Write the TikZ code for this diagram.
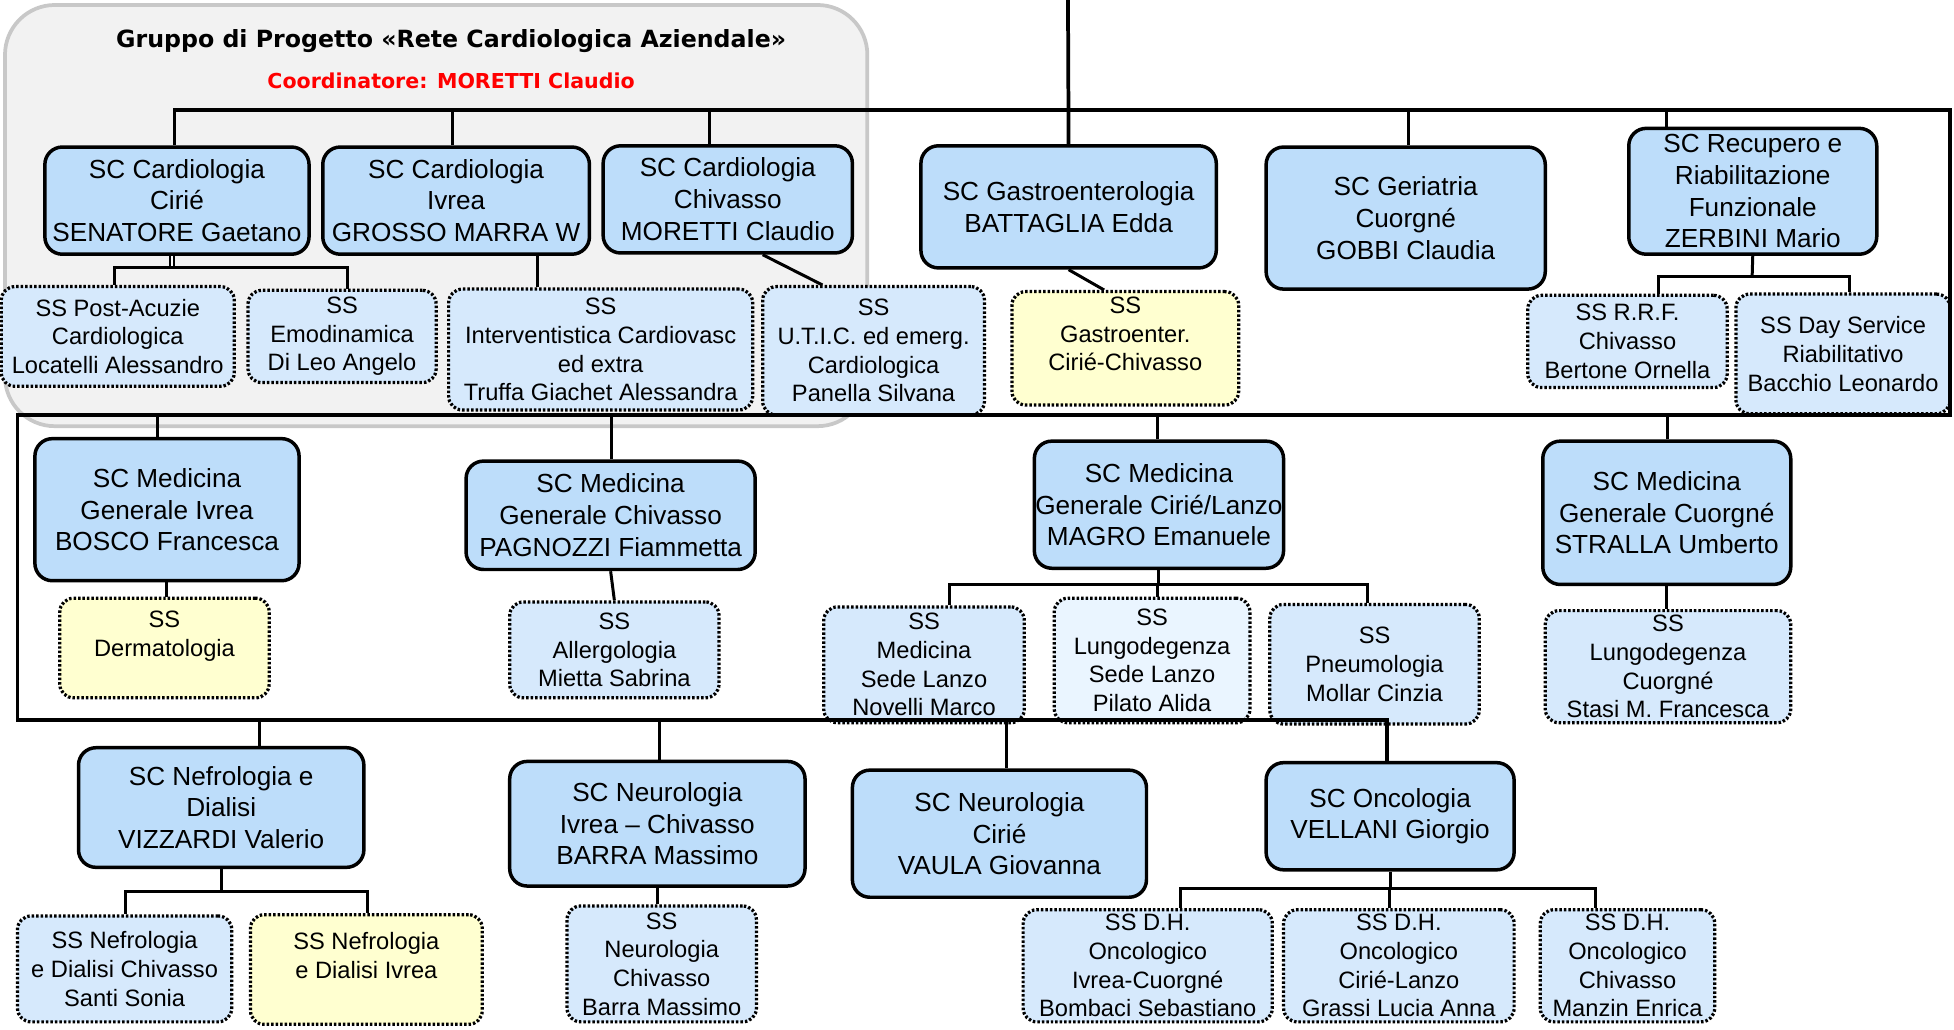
\documentclass[tikz,border=0pt]{standalone}
\usepackage{fontspec}
\setmainfont{Liberation Sans}
\newfontfamily\headfont{DejaVu Sans}
\definecolor{scblue}{RGB}{189,221,250}
\definecolor{ssblue}{RGB}{214,233,252}
\definecolor{ssyellow}{RGB}{255,255,208}
\definecolor{sspale}{RGB}{234,245,255}
\definecolor{groupline}{RGB}{200,200,200}
\definecolor{groupfill}{RGB}{242,242,242}
\begin{document}
\begin{tikzpicture}[x=1pt,y=-1pt,
  wh/.style 2 args={minimum width=#1pt,minimum height=#2pt},
  sc/.style={draw=black,line width=2.8pt,fill=scblue,rounded corners=14pt,inner sep=0pt,align=center,font=\fontsize{21}{25.5}\selectfont},
  ss/.style={draw=black,line width=2.6pt,dash pattern=on 2pt off 1.6pt,fill=ssblue,rounded corners=11pt,inner sep=0pt,align=center,font=\fontsize{19}{23}\selectfont},
  ssyel/.style={ss,fill=ssyellow},
  sspal/.style={ss,fill=sspale},
  link/.style={line width=2.4pt},
  rail/.style={line width=3pt},
  group/.style={draw=groupline,line width=3pt,fill=groupfill,rounded corners=40pt}]
\useasboundingbox (0,0) rectangle (1568,826);
\draw[group] (4,4) rectangle (696,342);
\node[font=\headfont\bfseries\fontsize{19}{23}\selectfont] (title) at (362,33) {Gruppo di Progetto «Rete Cardiologica Aziendale»};
\node[font=\headfont\bfseries\fontsize{16.5}{20}\selectfont,text=red] (coord) at (362,65) {Coordinatore: MORETTI Claudio};

\node[sc,wh={212}{86}] (cardcir) at (142,161) {SC Cardiologia\\Cirié\\SENATORE Gaetano};
\node[sc,wh={214}{86}] (cardivr) at (366,161) {SC Cardiologia\\Ivrea\\GROSSO MARRA W};
\node[sc,wh={200}{86}] (cardchv) at (584,160) {SC Cardiologia\\Chivasso\\MORETTI Claudio};
\node[sc,wh={237}{98}] (gastro) at (857.5,166) {SC Gastroenterologia\\BATTAGLIA Edda};
\node[sc,wh={224}{114}] (geriat) at (1128,175) {SC Geriatria\\Cuorgné\\GOBBI Claudia};
\node[sc,wh={199}{101}] (recup) at (1406.5,153.5) {SC Recupero e\\Riabilitazione\\Funzionale\\ZERBINI Mario};

\node[ss,wh={187}{80}] (postac) at (94.5,270) {SS Post-Acuzie\\Cardiologica\\Locatelli Alessandro};
\node[ss,wh={151}{74}] (emodin) at (274.5,270) {SS\\Emodinamica\\Di Leo Angelo};
\node[ss,wh={244}{97}] (interv) at (482,280.5) {SS\\Interventistica Cardiovasc\\ed extra\\Truffa Giachet Alessandra};
\node[ss,wh={178}{103}] (utic) at (701,281.5) {SS\\U.T.I.C. ed emerg.\\Cardiologica\\Panella Silvana};
\node[ssyel,wh={182}{91}] (ssgastro) at (903,279.5) {SS\\Gastroenter.\\Cirié-Chivasso\\\mbox{}};
\node[ss,wh={160}{74}] (rrf) at (1306,274) {SS R.R.F.\\Chivasso\\Bertone Ornella};
\node[ss,wh={172}{96}] (dayserv) at (1479,284) {SS Day Service\\Riabilitativo\\Bacchio Leonardo};

\node[sc,wh={212}{114}] (medivr) at (134,409) {SC Medicina\\Generale Ivrea\\BOSCO Francesca};
\node[sc,wh={232}{87}] (medchv) at (490,413.5) {SC Medicina\\Generale Chivasso\\PAGNOZZI Fiammetta};
\node[sc,wh={200}{102}] (medcir) at (930,405) {SC Medicina\\Generale Cirié/Lanzo\\MAGRO Emanuele};
\node[sc,wh={199}{115}] (medcuo) at (1337.5,411.5) {SC Medicina\\Generale Cuorgné\\STRALLA Umberto};

\node[ssyel,wh={168}{80}] (derm) at (132,520) {SS\\Dermatologia\\\mbox{}};
\node[ss,wh={168}{77}] (allerg) at (493,521.5) {SS\\Allergologia\\Mietta Sabrina};
\node[ss,wh={161}{93}] (medlanzo) at (741.5,533.5) {SS\\Medicina\\Sede Lanzo\\Novelli Marco};
\node[sspal,wh={157}{100}] (lungolanzo) at (924.5,530) {SS\\Lungodegenza\\Sede Lanzo\\Pilato Alida};
\node[ss,wh={168}{96}] (pneumo) at (1103,533) {SS\\Pneumologia\\Mollar Cinzia};
\node[ss,wh={197}{90}] (lungocuo) at (1338.5,535) {SS\\Lungodegenza\\Cuorgné\\Stasi M. Francesca};

\node[sc,wh={229}{96}] (nefro) at (177.5,648) {SC Nefrologia e\\Dialisi\\VIZZARDI Valerio};
\node[sc,wh={237}{100}] (neuivr) at (527.5,661) {SC Neurologia\\Ivrea – Chivasso\\BARRA Massimo};
\node[sc,wh={236}{102}] (neucir) at (802,669) {SC Neurologia\\Cirié\\VAULA Giovanna};
\node[sc,wh={199}{86}] (onco) at (1115.5,655) {SC Oncologia\\VELLANI Giorgio};

\node[ss,wh={172}{85}] (nefchv) at (100,777.5) {SS Nefrologia\\e Dialisi Chivasso\\Santi Sonia};
\node[ssyel,wh={186}{88}] (nefivr) at (294,778) {SS Nefrologia\\e Dialisi Ivrea\\\mbox{}};
\node[ss,wh={152}{93}] (neuchv) at (531,773.5) {SS\\Neurologia\\Chivasso\\Barra Massimo};
\node[ss,wh={200}{90}] (dhivr) at (921,775) {SS D.H.\\Oncologico\\Ivrea-Cuorgné\\Bombaci Sebastiano};
\node[ss,wh={185}{90}] (dhcir) at (1122.5,775) {SS D.H.\\Oncologico\\Cirié-Lanzo\\Grassi Lucia Anna};
\node[ss,wh={140}{90}] (dhchv) at (1306,775) {SS D.H.\\Oncologico\\Chivasso\\Manzin Enrica};

\coordinate (ra) at (140,88);
\coordinate (rb) at (1565,88);
\coordinate (rc) at (1565,333);
\coordinate (rd) at (14,333);
\coordinate (re) at (14,578);
\coordinate (rf) at (1113,578);
\coordinate (topin) at (857,0);
\draw[rail] (140,0 |- cardcir.north) -- (ra) -- (rb) -- (rc) -- (rd) -- (re) -- (rf) -- (1113,0 |- onco.north);
\draw[rail] (topin) -- (gastro.north);
\foreach \x/\n in {363/cardivr,569/cardchv,1130/geriat,1337/recup}
\draw[link] (\x,0 |- \n.north) -- (\x,0 |- ra);
\foreach \x/\n in {126/medivr,491/medchv,929/medcir,1338/medcuo}
\draw[link] (\x,0 |- \n.north) -- (\x,0 |- rd);
\foreach \x/\n in {208/nefro,529/neuivr,808/neucir}
\draw[link] (\x,0 |- \n.north) -- (\x,0 |- re);

\draw[line width=1.3pt,double,double distance=2pt] (138,0 |- cardcir.south) -- (138,215);
\draw[link] (92,0 |- postac.north) |- (279,215) -- (279,0 |- emodin.north);
\draw[link] (431,0 |- cardivr.south) -- (431,0 |- interv.north);
\draw[link] ([xshift=28pt]cardchv.south) -- ([xshift=-41pt]utic.north);
\draw[link] (gastro.south) -- ([xshift=-17pt]ssgastro.north);
\draw[link] (recup.south) -- (1406,222);
\draw[link] (1331,0 |- rrf.north) |- (1484,222) -- (1484,0 |- dayserv.north);

\draw[link] (medivr.south) -- (medivr.south |- derm.north);
\draw[link] (medchv.south) -- (allerg.north);
\draw[link] (medcir.south) -- (medcir.south |- 0,469);
\draw[link] (762,0 |- medlanzo.north) |- (1097,469) -- (1097,0 |- pneumo.north);
\draw[link] (929,469) -- (929,0 |- lungolanzo.north);
\draw[link] (medcuo.south) -- (medcuo.south |- lungocuo.north);

\draw[link] (nefro.south) -- (nefro.south |- 0,715);
\draw[link] (101,0 |- nefchv.north) |- (295,715) -- (295,0 |- nefivr.north);
\draw[link] (neuivr.south) -- (neuivr.south |- neuchv.north);
\draw[link] (onco.south) -- (onco.south |- 0,713);
\draw[link] (947,0 |- dhivr.north) |- (1280,713) -- (1280,0 |- dhchv.north);
\draw[link] (1115,713) -- (1115,0 |- dhcir.north);
\end{tikzpicture}
\end{document}
